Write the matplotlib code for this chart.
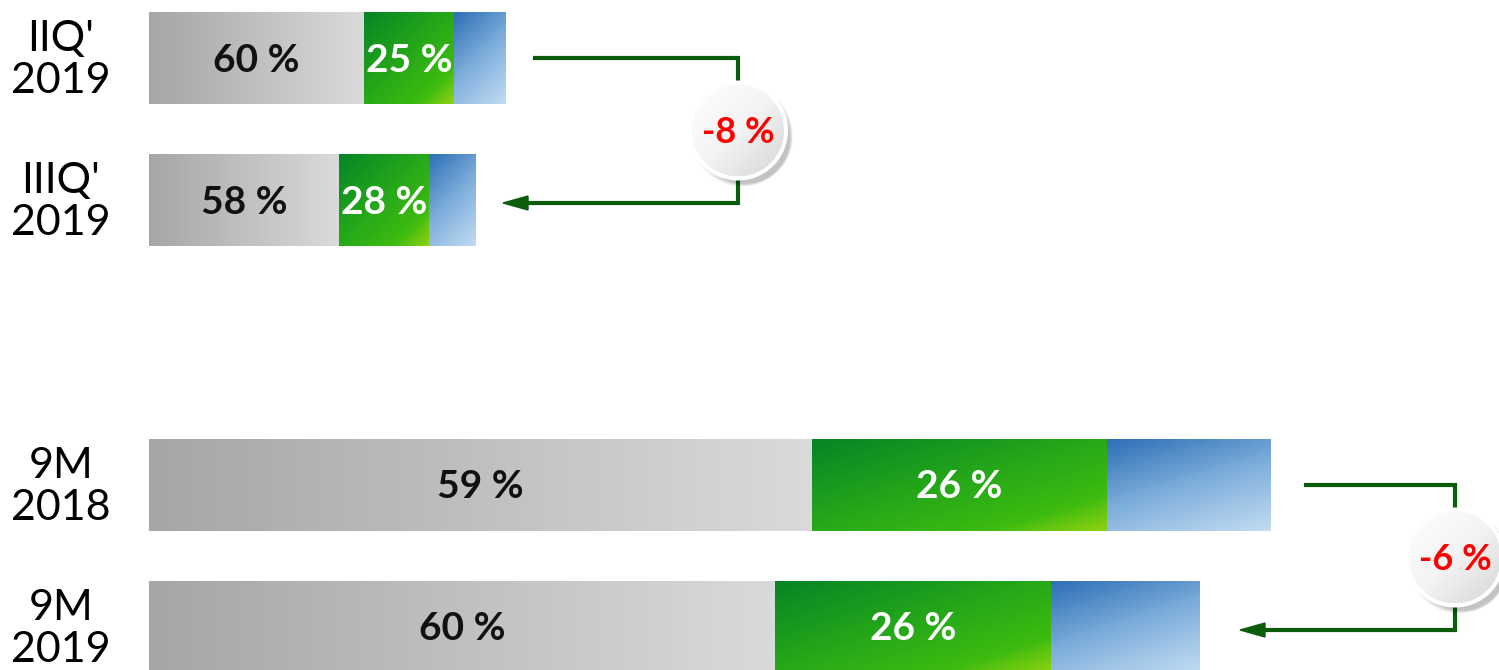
import matplotlib
matplotlib.use('Agg')
import matplotlib.pyplot as plt
import numpy as np
from matplotlib.colors import LinearSegmentedColormap
from matplotlib.patches import Circle

plt.rcParams['font.family'] = ['Lato', 'DejaVu Sans']

# Данные
periods = ["IIQ'\n2019", "IIIQ'\n2019", "9M\n2018", "9M\n2019"]
gray_vals = [215, 190, 663, 626]
green_vals = [90, 90, 295, 276]
blue_vals = [52, 47, 164, 149]
gray_labels = ['60 %', '58 %', '59 %', '60 %']
green_labels = ['25 %', '28 %', '26 %', '26 %']
changes = ['-8 %', '-6 %']

# Раскладка (в пикселях)
y_pos = [58, 200, 485, 627]
bar_h = 92

gray_cmap = LinearSegmentedColormap.from_list('g', ['#a6a6a6', '#dadada'])
green_cmap = LinearSegmentedColormap.from_list(
    'gr', [(0, '#058526'), (0.45, '#24a61a'), (0.8, '#3dbb10'), (1, '#8fd210')])
blue_cmap = LinearSegmentedColormap.from_list('b', ['#2e6fb6', '#7eaedb', '#c2dcf2'])
ball_cmap = LinearSegmentedColormap.from_list('c', ['#ffffff', '#f3f3f3', '#d6d6d6'])

fig = plt.figure(figsize=(14.99, 6.70), dpi=100)
ax = fig.add_axes([0, 0, 1, 1])
ax.axis('off')


def grad_bar(x0, w, y, cmap, wx, wy):
    top, bottom = y - bar_h / 2, y + bar_h / 2
    X, Y = np.meshgrid(np.linspace(0, 1, 200), np.linspace(0, 1, 60))
    Z = wx * X + wy * Y
    ax.imshow(Z, cmap=cmap, extent=(x0, x0 + w, bottom, top), origin='upper',
              aspect='auto', interpolation='bilinear', zorder=2)


for i in range(len(periods)):
    y = y_pos[i]
    g, gr, b = gray_vals[i], green_vals[i], blue_vals[i]
    grad_bar(0, g, y, gray_cmap, 1, 0)
    grad_bar(g, gr, y, green_cmap, 0.5, 0.5)
    grad_bar(g + gr, b, y, blue_cmap, 0.35, 0.65)
    ax.text(g / 2, y + 2, gray_labels[i], ha='center', va='center',
            fontsize=28, fontweight='bold', color='#111111', zorder=5)
    ax.text(g + gr / 2, y + 2, green_labels[i], ha='center', va='center',
            fontsize=28, fontweight='bold', color='white', zorder=5)
    ax.text(-88, y + 2, periods[i], ha='center', va='center', fontsize=31,
            color='black', linespacing=1.1, zorder=5)

totals = [g + gr + b for g, gr, b in zip(gray_vals, green_vals, blue_vals)]


def connector(i_from, i_to, xv, start_gap, tip_gap, label):
    y1, y2 = y_pos[i_from], y_pos[i_to] + 3
    xs = totals[i_from] + start_gap
    xe = totals[i_to] + tip_gap
    col = '#0b5d0b'
    ax.plot([xs, xv, xv, xe + 20], [y1, y1, y2, y2], color=col, lw=3,
            solid_joinstyle='miter', zorder=3)
    ax.fill([xe, xe + 25, xe + 25], [y2, y2 - 7, y2 + 7], color=col, zorder=3)
    cy = (y1 + y2) / 2
    r = 46
    for k in range(7):
        ax.add_patch(Circle((xv + 4 + k * 0.5, cy + 5 + k * 0.5), r + 5 - k,
                            color='black', alpha=0.035, lw=0, zorder=4))
    ax.add_patch(Circle((xv, cy), r + 4, color='white', lw=0, zorder=4))
    clip = Circle((xv, cy), r, transform=ax.transData)
    X, Y = np.meshgrid(np.linspace(0, 1, 80), np.linspace(0, 1, 80))
    im = ax.imshow(0.5 * X + 0.5 * Y, cmap=ball_cmap,
                   extent=(xv - r, xv + r, cy + r, cy - r), origin='upper',
                   aspect='auto', zorder=4.5)
    im.set_clip_path(clip)
    ax.text(xv, cy + 2, label, ha='center', va='center', fontsize=26,
            fontweight='bold', color='#ff0000', zorder=6)


connector(0, 1, 589, 29, 27, changes[0])
connector(2, 3, 1306, 35, 40, changes[1])

ax.set_xlim(-149, 1350)
ax.set_ylim(670, 0)

fig.savefig('out.png', dpi=100)
